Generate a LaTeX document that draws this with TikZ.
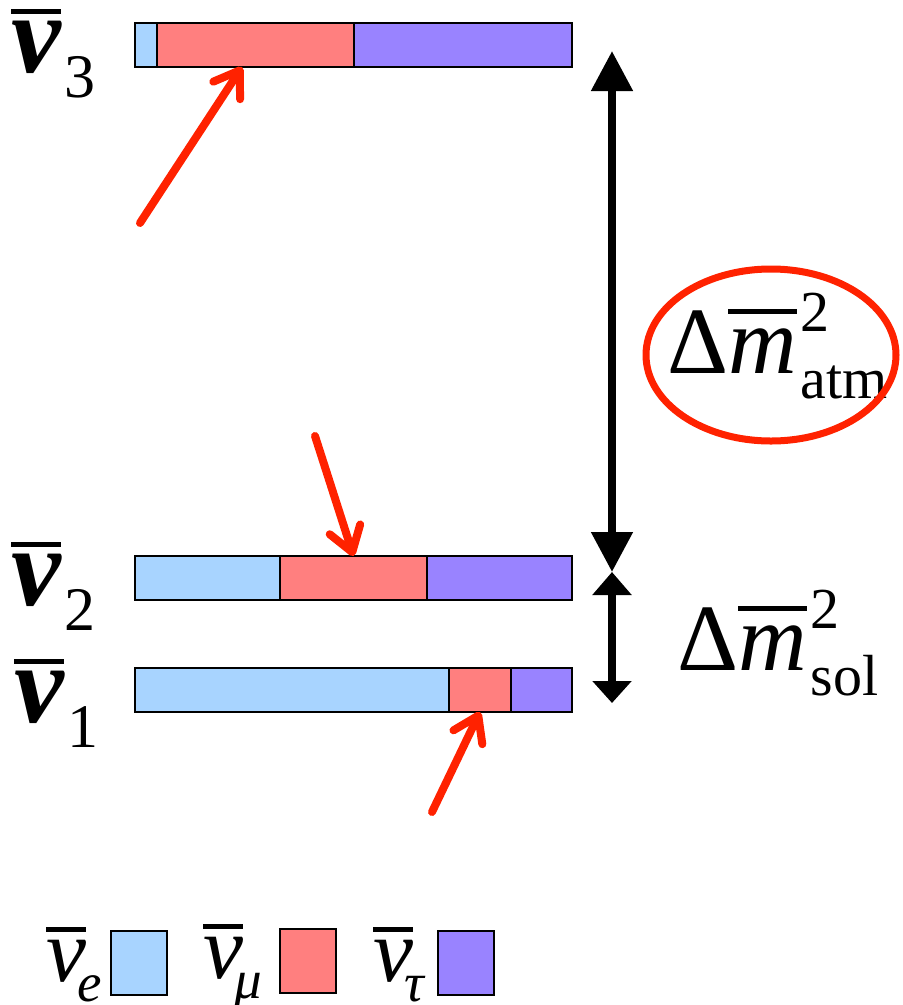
\documentclass[tikz,border=0pt]{standalone}
\usepackage{fontspec}
\setmainfont{Liberation Serif}
\usetikzlibrary{arrows.meta}
\definecolor{FlavBlue}{HTML}{A8D4FF}
\definecolor{FlavRed}{HTML}{FF7F7F}
\definecolor{FlavPurple}{HTML}{9983FF}
\definecolor{PointRed}{HTML}{FF2200}
% bar over a symbol, rule thickness and gap given
\newcommand{\barred}[3]{\vbox{\hrule height #1\kern #2\hbox{#3}}}
\newcommand{\numass}[1]{\barred{5pt}{7pt}{\bfseries\itshape ν}\kern4pt\raisebox{-25pt}{\fontsize{62}{62}\selectfont #1}}
\newcommand{\nuflav}[1]{\barred{5pt}{8pt}{\itshape ν}\kern-9pt\raisebox{-20pt}{\fontsize{55}{55}\selectfont\itshape #1}}
\newcommand{\dmsq}[1]{Δ\barred{5pt}{14pt}{\itshape m}\kern4pt\rlap{\raisebox{42pt}{\fontsize{58}{58}\selectfont 2}}\raisebox{-25pt}{\fontsize{58}{58}\selectfont #1}}

\begin{document}
\begin{tikzpicture}[
    x=1pt,y=-1pt,
    seg/.style={draw=black,line width=1.6pt,minimum height=44pt,inner sep=0pt,outer sep=0pt,anchor=north west},
    nue/.style={seg,fill=FlavBlue},
    numu/.style={seg,fill=FlavRed},
    nutau/.style={seg,fill=FlavPurple},
    swatch/.style={draw=black,line width=1.6pt,minimum width=56pt,minimum height=64pt,inner sep=0pt,outer sep=0pt,anchor=north west},
    masslbl/.style={inner sep=0pt,anchor=base west,font=\fontsize{112}{112}\selectfont},
    flavlbl/.style={inner sep=0pt,anchor=base west,font=\fontsize{90}{90}\selectfont},
    splitlbl/.style={inner sep=0pt,anchor=base west,font=\fontsize{95}{95}\selectfont},
    pointer/.style={PointRed,line width=8pt,line cap=round,-{Straight Barb[length=24pt,width=32pt,round]}},
    gap/.style={line width=8pt},
    ring/.style={PointRed,line width=7pt}
  ]
    \useasboundingbox (0,0) rectangle (903,1005);

    % mass states
    \node[nue,minimum width=22pt] (e3) at (135,23) {};
    \node[numu,minimum width=197pt] (m3) at (e3.north east) {};
    \node[nutau,minimum width=218pt] (t3) at (m3.north east) {};

    \node[nue,minimum width=145pt] (e2) at (135,556) {};
    \node[numu,minimum width=147pt] (m2) at (e2.north east) {};
    \node[nutau,minimum width=145pt] (t2) at (m2.north east) {};

    \node[nue,minimum width=314pt] (e1) at (135,668) {};
    \node[numu,minimum width=62pt] (m1) at (e1.north east) {};
    \node[nutau,minimum width=61pt] (t1) at (m1.north east) {};

    \node[masslbl] (n3) at (11,72) {\numass{3}};
    \node[masslbl] (n2) at (11,605) {\numass{2}};
    \node[masslbl] (n1) at (14,722) {\numass{1}};

    % pointers to the mu share
    \coordinate (p3) at (140,223);
    \coordinate (p2) at (315,436);
    \coordinate (p1) at (432,812);
    \draw[pointer] (p3) -- ([xshift=-13.5pt]m3.south);
    \draw[pointer] (p2) -- (m2.north);
    \draw[pointer] (p1) -- (m1.south);

    % splittings
    \coordinate (top) at (612,51);
    \coordinate (mid) at (612,572);
    \coordinate (bot) at (612,703);
    \draw[gap,{Triangle[length=40pt,width=40pt]}-{Triangle[length=40pt,width=40pt]}] (top) -- (mid);
    \draw[gap,{Triangle[length=23pt,width=38pt]}-{Triangle[length=22pt,width=38pt]}] (mid) -- (bot);

    \node[splitlbl] (atm) at (667,373) {\dmsq{atm}};
    \node[splitlbl] (sol) at (677,670) {\dmsq{sol}};
    \draw[ring] (771,355) ellipse [x radius=125pt,y radius=86pt];

    % legend
    \node[flavlbl] (le) at (46,981) {\nuflav{e}};
    \node[swatch,fill=FlavBlue] (be) at (111,931) {};
    \node[flavlbl] (lm) at (203,978) {\nuflav{μ}};
    \node[swatch,fill=FlavRed] (bm) at (280,929) {};
    \node[flavlbl] (lt) at (373,981) {\nuflav{τ}};
    \node[swatch,fill=FlavPurple] (bt) at (438,931) {};
  \end{tikzpicture}
\end{document}
